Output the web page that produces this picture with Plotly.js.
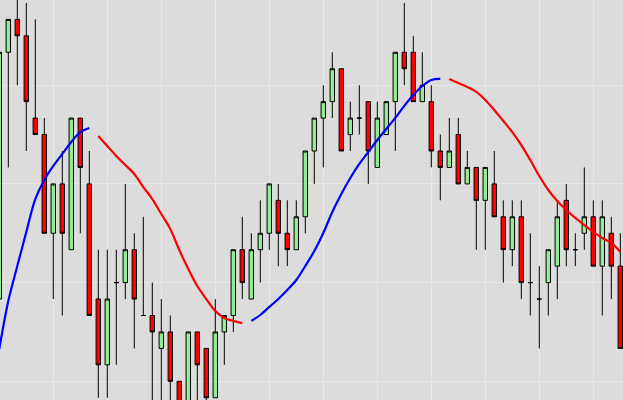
<!DOCTYPE html>
<html>
<head>
<meta charset="utf-8">
<script src="https://cdn.plot.ly/plotly-3.0.1.min.js"></script>
<style>html,body{margin:0;padding:0;background:#dcdcdc;}#chart{width:623px;height:400px;}</style>
</head>
<body>
<div id="chart"></div>
<script>
// Candle index (bar number)
const bars = Array.from({length: 70}, (_, i) => i);

const openP  = [82,97,99,98,93,92,86,89,85,93,89,82,78,83,83,85,81,81,79,80,77,75,80,79,76,80,81,85,82,85,86,88,86,85,87,91,93,94,96,92,93,94,90,92,94,97,97,94,94,91,90,92,89,90,88,89,87,85,87,83,82,83,84,88,85,86,87,84,86,84];
const highP  = [98,99,101,100,99,93,89,91,93,93,91,85,85,85,89,86,87,83,82,81,77,80,80,79,82,81,85,87,86,88,89,89,88,88,91,93,95,97,96,94,95,94,94,94,97,100,98,97,95,92,93,93,91,90,90,91,88,88,88,86,84,85,88,89,86,90,88,88,87,86];
const lowP   = [81,90,95,91,92,86,82,81,85,86,81,76,76,78,82,79,81,75,75,75,75,75,75,75,76,78,80,82,82,83,85,84,84,85,86,89,90,93,91,91,92,89,90,92,91,95,94,94,90,88,90,89,89,85,85,87,83,84,82,81,79,81,82,84,84,85,84,81,82,79];
const closeP = [97,99,98,94,92,86,89,86,93,90,81,78,82,83,85,82,81,80,80,77,75,80,78,76,80,81,85,83,85,86,89,86,85,87,91,93,94,96,91,93,93,91,93,94,97,96,94,95,91,90,91,89,90,88,90,87,85,87,83,83,82,85,87,85,85,87,84,87,84,79];

// Smoothed moving average
const maValues = [78.96,81.88,84.01,86.08,88.08,89.24,90.09,90.82,91.55,92.15,92.40,
  91.91,91.30,90.70,90.15,89.60,88.81,88.08,87.17,86.26,84.98,83.83,82.79,82.00,81.27,80.85,80.67,80.54,
  80.67,81.03,81.52,82.00,82.55,83.16,84.01,84.92,86.02,87.29,88.39,89.36,90.21,90.94,91.67,92.34,93.01,93.74,94.40,94.95,95.32,95.38,
  95.38,95.13,94.89,94.59,94.10,93.49,92.82,92.15,91.36,90.45,89.48,88.63,87.96,87.41,86.93,86.50,86.08,85.71,85.41,84.86];
// Direction of the average per bar: 1 = rising (blue), -1 = falling (red)
const maDir = [1,1,1,1,1,1,1,1,1,1,1,
  -1,-1,-1,-1,-1,-1,-1,-1,-1,-1,-1,-1,-1,-1,-1,-1,-1,
  1,1,1,1,1,1,1,1,1,1,1,1,1,1,1,1,1,1,1,1,1,1,
  -1,-1,-1,-1,-1,-1,-1,-1,-1,-1,-1,-1,-1,-1,-1,-1,-1,-1,-1,-1];

const maUp = maValues.map((v, i) => maDir[i] === 1 ? v : null);
const maDown = maValues.map((v, i) => maDir[i] === -1 ? v : null);

const traces = [
  {
    type: 'candlestick',
    x: bars, open: openP, high: highP, low: lowP, close: closeP,
    increasing: {line: {color: '#000000', width: 1}, fillcolor: '#90ee90'},
    decreasing: {line: {color: '#000000', width: 1}, fillcolor: '#ff0000'},
    whiskerwidth: 0,
    hoverinfo: 'skip',
    showlegend: false
  },
  {
    type: 'scatter', mode: 'lines', x: bars, y: maUp,
    line: {color: '#0000ff', width: 2.2, shape: 'spline', smoothing: 1},
    connectgaps: false, hoverinfo: 'skip', showlegend: false
  },
  {
    type: 'scatter', mode: 'lines', x: bars, y: maDown,
    line: {color: '#ff0000', width: 2.2, shape: 'spline', smoothing: 1},
    connectgaps: false, hoverinfo: 'skip', showlegend: false
  }
];

const layout = {
  width: 623, height: 400,
  margin: {l: 0, r: 0, t: 0, b: 0, pad: 0},
  paper_bgcolor: '#dcdcdc',
  plot_bgcolor: '#dcdcdc',
  showlegend: false,
  xaxis: {
    range: [0.078, 69.3], showticklabels: false, ticks: '',
    showgrid: true, gridcolor: '#e8e8e8', gridwidth: 1,
    tick0: 0, dtick: 6, zeroline: false, showline: false,
    rangeslider: {visible: false}, fixedrange: true
  },
  yaxis: {
    range: [75.863, 100.179], showticklabels: false, ticks: '',
    showgrid: true, gridcolor: '#e8e8e8', gridwidth: 1,
    tick0: 77, dtick: 6, zeroline: false, showline: false, fixedrange: true
  }
};

Plotly.newPlot('chart', traces, layout, {staticPlot: true, displayModeBar: false});
</script>
</body>
</html>
